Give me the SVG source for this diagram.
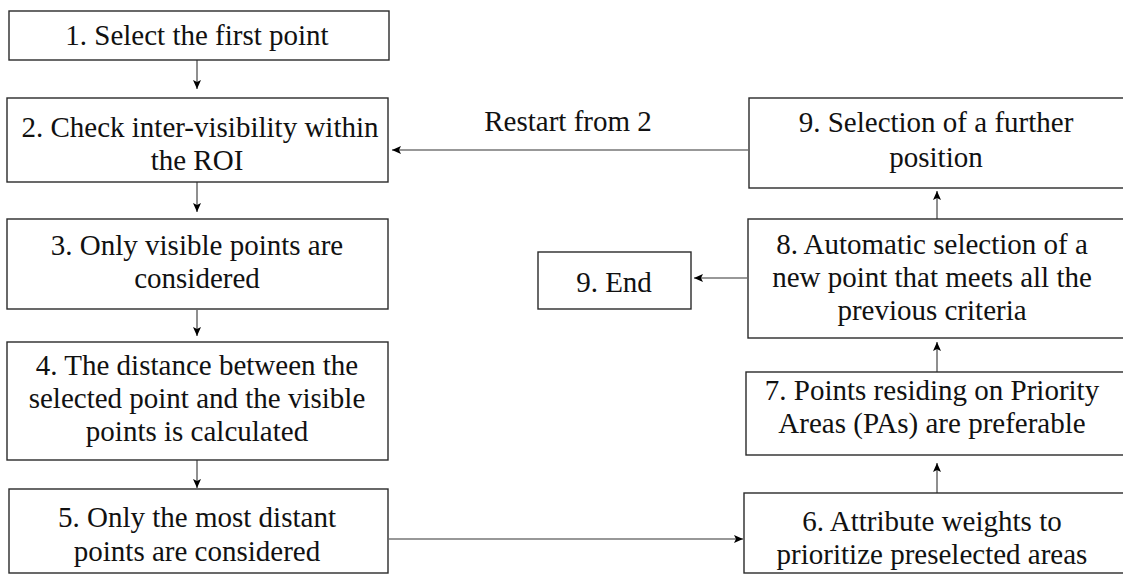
<svg xmlns="http://www.w3.org/2000/svg" width="1123" height="576" viewBox="0 0 1123 576">
<style>
.box{fill:#fff;stroke:#2a2a2a;stroke-width:1.4}
.t{font-family:"Liberation Serif","Times New Roman",serif;font-size:29px;fill:#111;text-anchor:middle}
.c{stroke:#333;stroke-width:1.1;fill:none;marker-end:url(#ah)}
</style>
<defs>
<marker id="ah" markerUnits="userSpaceOnUse" markerWidth="10" markerHeight="8" refX="9" refY="4" orient="auto">
<path d="M0,0 L9,4 L0,8 L2,4 Z" fill="#000"/>
</marker>
</defs>
<rect width="1123" height="576" fill="#fff"/>
<g id="connectors">
<line class="c" x1="197" y1="60" x2="197" y2="89"/>
<line class="c" x1="197" y1="182" x2="197" y2="212"/>
<line class="c" x1="197" y1="310" x2="197" y2="336"/>
<line class="c" x1="197" y1="460" x2="197" y2="488"/>
<line class="c" x1="389" y1="539" x2="743" y2="539"/>
<line class="c" x1="937" y1="493" x2="937" y2="463"/>
<line class="c" x1="937" y1="372" x2="937" y2="342"/>
<line class="c" x1="937" y1="219" x2="937" y2="191"/>
<line class="c" x1="748" y1="150" x2="392" y2="150"/>
<line class="c" x1="747" y1="278" x2="694" y2="278"/>
<text class="t" x="568" y="131">Restart from 2</text>
</g>
<g id="n1"><rect class="box" x="9" y="11" width="380" height="49"/><text class="t" x="197" y="45">1. Select the first point</text></g>
<g id="n2"><rect class="box" x="7" y="98" width="381" height="84"/><text class="t" x="200" y="137">2. Check inter-visibility within</text><text class="t" x="197" y="170">the ROI</text></g>
<g id="n3"><rect class="box" x="7" y="219" width="381" height="90"/><text class="t" x="197" y="255">3. Only visible points are</text><text class="t" x="197" y="288">considered</text></g>
<g id="n4"><rect class="box" x="7" y="342" width="381" height="118"/><text class="t" x="197" y="375">4. The distance between the</text><text class="t" x="197" y="408">selected point and the visible</text><text class="t" x="197" y="441">points is calculated</text></g>
<g id="n5"><rect class="box" x="9" y="489" width="379" height="84"/><text class="t" x="197" y="527">5. Only the most distant</text><text class="t" x="197" y="561">points are considered</text></g>
<g id="n6"><rect class="box" x="744" y="493" width="385" height="80"/><text class="t" x="932" y="531">6. Attribute weights to</text><text class="t" x="932" y="564">prioritize preselected areas</text></g>
<g id="n7"><rect class="box" x="746" y="372" width="383" height="83"/><text class="t" x="932" y="400">7. Points residing on Priority</text><text class="t" x="932" y="433">Areas (PAs) are preferable</text></g>
<g id="n8"><rect class="box" x="748" y="219" width="381" height="119"/><text class="t" x="932" y="254">8. Automatic selection of a</text><text class="t" x="932" y="287">new point that meets all the</text><text class="t" x="932" y="320">previous criteria</text></g>
<g id="n9"><rect class="box" x="749" y="98" width="380" height="90"/><text class="t" x="936" y="132">9. Selection of a further</text><text class="t" x="936" y="167">position</text></g>
<g id="n10"><rect class="box" x="538" y="252" width="153" height="57"/><text class="t" x="614" y="292">9. End</text></g>
</svg>
